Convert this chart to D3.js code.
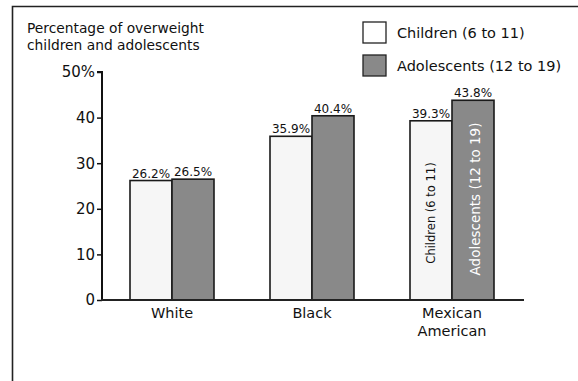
<!DOCTYPE html>
<html>
<head>
<meta charset="utf-8">
<script src="https://cdn.jsdelivr.net/npm/d3@7"></script>
<style>
  html, body { margin: 0; padding: 0; background: #fff; }
  svg { display: block; }
  text { font-family: "DejaVu Sans", Verdana, sans-serif; fill: #111; }
</style>
</head>
<body>
<svg id="chart" width="578" height="381"></svg>
<script>
// Overweight prevalence by group and age band
const categories = [["White"], ["Black"], ["Mexican", "American"]];
const seriesNames = ["Children (6 to 11)", "Adolescents (12 to 19)"];
const children = [26.2, 35.9, 39.3];
const adolescents = [26.5, 40.4, 43.8];
const yTicks = [0, 10, 20, 30, 40, 50];
const yTickLabels = ["0", "10", "20", "30", "40", "50%"];

const fills = ["#f6f6f6", "#898989"];
const svg = d3.select("#chart");

// Frame (left and top edges)
svg.append("path")
  .attr("d", "M12.5,381 L12.5,6.5 L578,6.5")
  .attr("fill", "none").attr("stroke", "#222").attr("stroke-width", 1.6);

// Heading
const head = svg.append("text").attr("x", 27).attr("y", 33).style("font-size", "13.8px");
head.append("tspan").attr("x", 27).attr("dy", 0).text("Percentage of overweight");
head.append("tspan").attr("x", 27).attr("dy", 17).text("children and adolescents");

const catKeys = categories.map(c => c.join(" "));
const x = d3.scaleBand().domain(catKeys).range([102, 522]).paddingInner(0.4).paddingOuter(0.2);
const xs = d3.scaleBand().domain([0, 1]).range([0, x.bandwidth()]);
const y = d3.scaleLinear().domain([0, 50]).range([300, 72]);

// Y axis
const yAxis = svg.append("g").attr("transform", "translate(102,0)")
  .call(d3.axisLeft(y).tickValues(yTicks).tickSize(5).tickPadding(2)
    .tickFormat((d, i) => yTickLabels[i]));
yAxis.select(".domain").attr("stroke", "#111").attr("stroke-width", 2).attr("d", `M-5,${y(50)}H0V${y(0)}`);
yAxis.selectAll(".tick line").attr("stroke", "#111").attr("stroke-width", 1.5);
yAxis.selectAll(".tick text").style("font-size", "15px").style("font-family", "DejaVu Sans, Verdana, sans-serif").attr("fill", "#111");

// Bars
const data = catKeys.map((k, i) => ({ key: k, vals: [children[i], adolescents[i]] }));
const groups = svg.selectAll("g.grp").data(data).join("g")
  .attr("class", "grp").attr("transform", d => `translate(${x(d.key)},0)`);

groups.selectAll("rect").data(d => d.vals.map((v, j) => ({ v, j }))).join("rect")
  .attr("x", d => xs(d.j))
  .attr("y", d => y(d.v))
  .attr("width", xs.bandwidth())
  .attr("height", d => y(0) - y(d.v))
  .attr("fill", d => fills[d.j])
  .attr("stroke", "#1a1a1a").attr("stroke-width", 1.6);

groups.selectAll("text.val").data(d => d.vals.map((v, j) => ({ v, j }))).join("text")
  .attr("class", "val")
  .attr("x", d => xs(d.j) + xs.bandwidth() / 2)
  .attr("y", d => y(d.v) - 3)
  .attr("text-anchor", "middle")
  .style("font-size", "12px")
  .text(d => d.v.toFixed(1) + "%");

// Series names written along the last group's bars
const last = data[data.length - 1];
[0, 1].forEach(j => {
  const cx = x(last.key) + xs(j) + xs.bandwidth() / 2;
  const cy = j === 0 ? 213 : 199;
  svg.append("text")
    .attr("transform", `translate(${cx + (j === 0 ? 4 : 7)},${cy}) rotate(-90)`)
    .attr("text-anchor", "middle")
    .style("font-size", j === 0 ? "11.5px" : "13.5px")
    .style("fill", j === 0 ? "#111" : "#fff")
    .text(seriesNames[j]);
});

// X axis baseline
svg.append("line").attr("x1", 101).attr("x2", 524).attr("y1", y(0)).attr("y2", y(0))
  .attr("stroke", "#222").attr("stroke-width", 2);

// Category labels
categories.forEach((lines, i) => {
  const t = svg.append("text").attr("text-anchor", "middle").style("font-size", "14.5px");
  lines.forEach((ln, k) => t.append("tspan")
    .attr("x", x(catKeys[i]) + x.bandwidth() / 2)
    .attr("y", 318 + k * 18).text(ln));
});

// Legend
const legend = svg.append("g").attr("transform", "translate(363,22)");
seriesNames.forEach((name, j) => {
  const g = legend.append("g").attr("transform", `translate(0,${j * 33})`);
  g.append("rect").attr("width", 23).attr("height", 21)
    .attr("fill", j === 0 ? "#fff" : fills[1]).attr("stroke", "#222").attr("stroke-width", 1.3);
  g.append("text").attr("x", 34).attr("y", 16).style("font-size", "14.5px").text(name);
});
</script>
</body>
</html>
